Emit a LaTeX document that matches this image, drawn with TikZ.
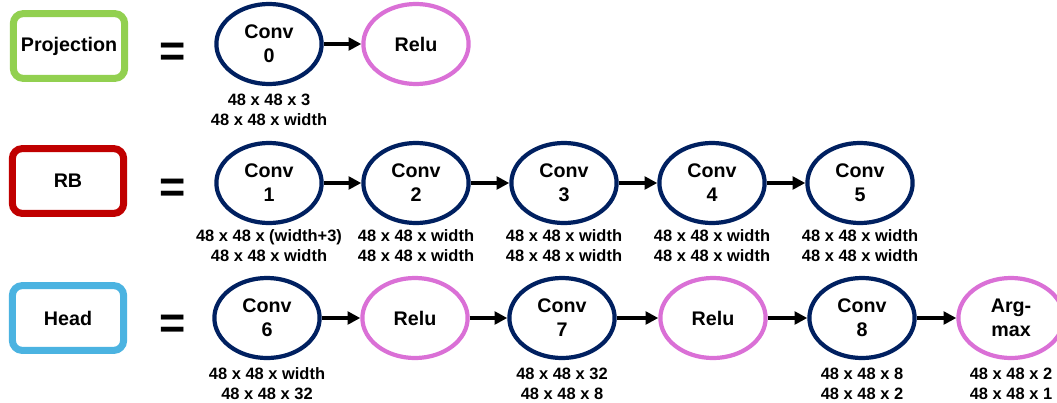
\documentclass[tikz,border=0pt]{standalone}
\usepackage{fontspec}
\setmainfont{Liberation Sans}
\usetikzlibrary{arrows.meta,shapes.geometric}
\definecolor{convblue}{HTML}{002060}
\definecolor{reluviolet}{HTML}{DA70D6}
\definecolor{projgreen}{HTML}{92D050}
\definecolor{rbred}{HTML}{C00000}
\definecolor{headblue}{HTML}{4BB3E1}

\begin{document}
\begin{tikzpicture}[x=0.025cm, y=-0.025cm]
 \tikzstyle{blk}=[rectangle, draw, line width=5pt, rounded corners=7pt, minimum width=2.78cm, minimum height=1.62cm, font=\fontsize{14}{17}\selectfont\bfseries]
 \tikzstyle{conv}=[ellipse, draw=convblue, line width=3pt, minimum width=2.63cm, minimum height=2cm, inner sep=0pt, align=center, font=\fontsize{14}{17}\selectfont\bfseries]
 \tikzstyle{relu}=[conv, draw=reluviolet]
 \tikzstyle{dims}=[align=center, inner sep=0pt, font=\fontsize{11.7}{14.2}\selectfont\bfseries]
 \tikzstyle{equal}=[inner sep=0pt, font=\fontsize{32}{32}\selectfont\bfseries]
 \tikzstyle{estun}=[-{Triangle[length=9pt,width=9pt]}, line width=3.2pt]
 \useasboundingbox (0,0) rectangle (1057,402);
 %
 \node[blk, draw=projgreen] (Proj) at (69, 46) {Projection};
 \node[equal] (Eq0) at (173, 55) {=};
 \node[conv] (C0) at (269, 44) {Conv\\0};
 \node[relu] (R0) at (416, 44) {Relu};
 \node[dims] (D0) at (269, 110) {48 x 48 x 3\\48 x 48 x width};
 %
 \node[blk, draw=rbred] (RB) at (68, 181) {RB};
 \node[equal] (Eq1) at (173, 191) {=};
 \node[conv] (C1) at (269, 183) {Conv\\1};
 \node[conv] (C2) at (416, 183) {Conv\\2};
 \node[conv] (C3) at (564, 183) {Conv\\3};
 \node[conv] (C4) at (712, 183) {Conv\\4};
 \node[conv] (C5) at (860, 183) {Conv\\5};
 \node[dims] (D1) at (269, 246) {48 x 48 x (width+3)\\48 x 48 x width};
 \node[dims] (D2) at (416, 246) {48 x 48 x width\\48 x 48 x width};
 \node[dims] (D3) at (564, 246) {48 x 48 x width\\48 x 48 x width};
 \node[dims] (D4) at (712, 246) {48 x 48 x width\\48 x 48 x width};
 \node[dims] (D5) at (860, 246) {48 x 48 x width\\48 x 48 x width};
 %
 \node[blk, draw=headblue] (Head) at (68, 318) {Head};
 \node[equal] (Eq2) at (173, 327) {=};
 \node[conv] (C6) at (267, 318) {Conv\\6};
 \node[relu] (R1) at (415, 318) {Relu};
 \node[conv] (C7) at (562, 318) {Conv\\7};
 \node[relu] (R2) at (713, 318) {Relu};
 \node[conv] (C8) at (862, 318) {Conv\\8};
 \node[relu] (AM) at (1011, 318) {Arg-\\max};
 \node[dims] (D6) at (267, 384) {48 x 48 x width\\48 x 48 x 32};
 \node[dims] (D7) at (562, 384) {48 x 48 x 32\\48 x 48 x 8};
 \node[dims] (D8) at (862, 384) {48 x 48 x 8\\48 x 48 x 2};
 \node[dims] (D9) at (1011, 384) {48 x 48 x 2\\48 x 48 x 1};
 %%
 \draw[estun] (C0)--(R0);
 \draw[estun] (C1)--(C2);
 \draw[estun] (C2)--(C3);
 \draw[estun] (C3)--(C4);
 \draw[estun] (C4)--(C5);
 \draw[estun] (C6)--(R1);
 \draw[estun] (R1)--(C7);
 \draw[estun] (C7)--(R2);
 \draw[estun] (R2)--(C8);
 \draw[estun] (C8)--(AM);
\end{tikzpicture}
\end{document}
